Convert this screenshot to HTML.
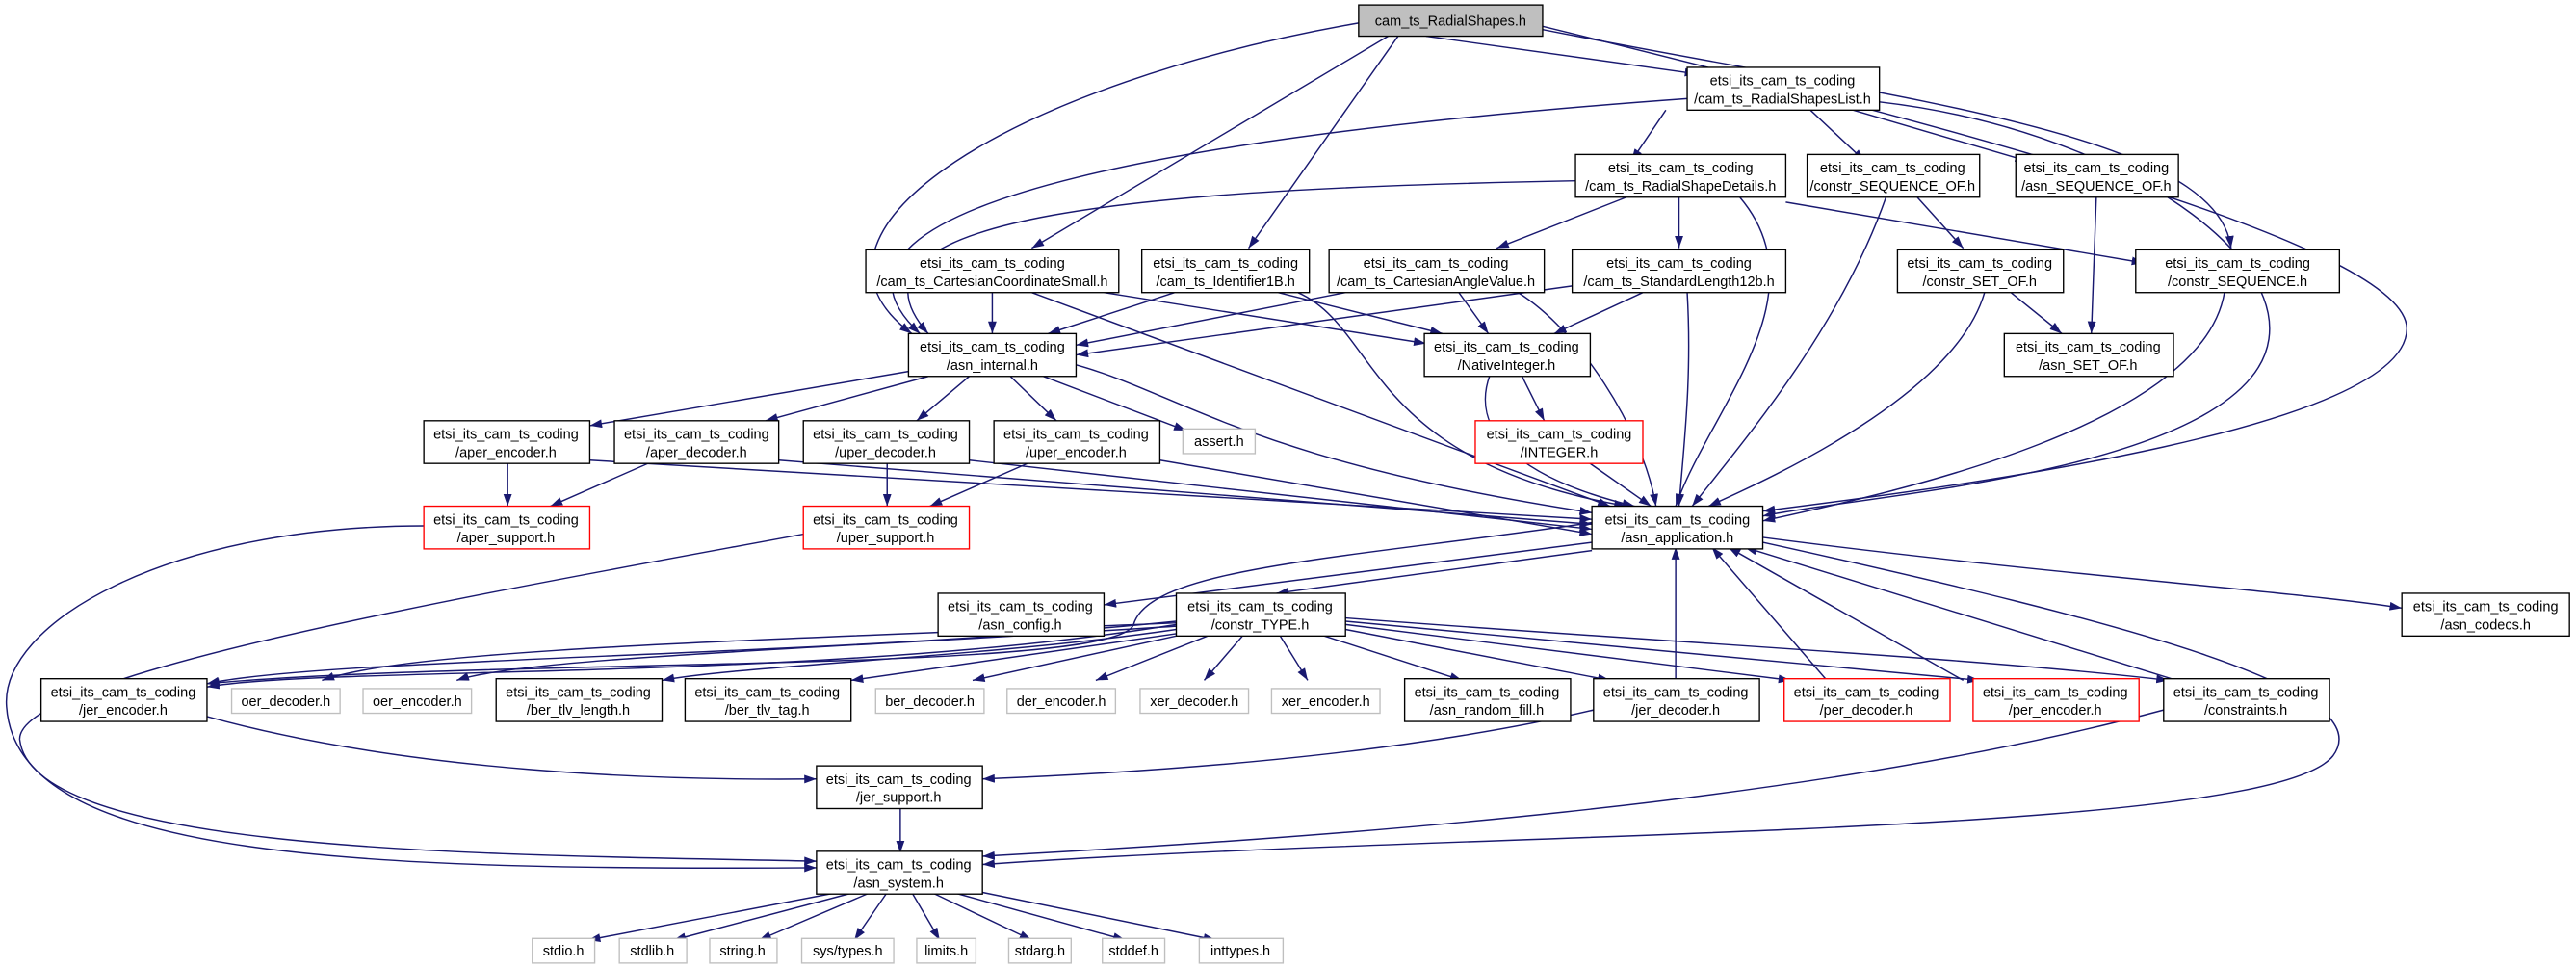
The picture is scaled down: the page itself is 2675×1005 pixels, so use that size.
<!DOCTYPE html>
<html><head><meta charset="utf-8"><style>
html,body{margin:0;padding:0;background:#fff;}
svg{display:block;}
text{font-family:"Liberation Sans",sans-serif;font-size:8.5px;fill:#000;text-anchor:middle;}
.e{fill:none;stroke:#191970;stroke-width:0.85;}
</style></head><body>
<svg width="2675" height="1005" viewBox="0 0 1568 589" preserveAspectRatio="none" xmlns="http://www.w3.org/2000/svg">
<defs><marker id="a" viewBox="0 0 10 7" markerWidth="7.5" markerHeight="5.2" refX="10" refY="3.5" orient="auto" markerUnits="userSpaceOnUse"><path d="M0,0 L10,3.5 L0,7 z" fill="#191970"/></marker></defs>
<g class="e" marker-end="url(#a)">
<path d="M868,22 L1033,45"/>
<path d="M827,14 C620,50 470,140 555,203"/>
<path d="M1027,60 C750,80 470,120 560,203"/>
<path d="M959,110 C700,115 500,130 565,203"/>
<path d="M845,22 L628,151"/>
<path d="M851,22 L760,151"/>
<path d="M939,18 C1150,60 1350,80 1358,151"/>
<path d="M939,16 C1200,80 1465,150 1465,200 C1465,260 1200,295 1073,311"/>
<path d="M1014,67 L993,98"/>
<path d="M1102,67 L1135,98"/>
<path d="M1128,67 L1234,98"/>
<path d="M1144,62 C1300,80 1420,170 1370,230 C1320,290 1130,302 1073,314"/>
<path d="M990,120 L911,151"/>
<path d="M1022,120 L1022,151"/>
<path d="M1087,123 L1305,160"/>
<path d="M1059,120 C1110,180 1040,250 1020,308"/>
<path d="M1167,120 L1195,151"/>
<path d="M1148,120 C1120,200 1060,270 1030,308"/>
<path d="M1276,120 L1273,203"/>
<path d="M1224,178 L1255,203"/>
<path d="M1208,178 C1190,240 1080,290 1040,308"/>
<path d="M1354,178 C1340,260 1150,300 1073,317"/>
<path d="M604,178 L604,203"/>
<path d="M672,178 L868,209"/>
<path d="M628,178 L980,308"/>
<path d="M715,178 L638,203"/>
<path d="M778,178 L878,203"/>
<path d="M790,178 C840,200 830,280 990,308"/>
<path d="M819,178 L655,210"/>
<path d="M888,178 L906,203"/>
<path d="M924,178 C960,200 1000,260 1008,308"/>
<path d="M957,174 L655,216"/>
<path d="M1000,178 L946,203"/>
<path d="M1027,178 C1030,230 1025,270 1022,308"/>
<path d="M926,228 L940,256"/>
<path d="M907,228 C895,260 920,290 995,308"/>
<path d="M965,280 L1005,308"/>
<path d="M553,226 L359,259"/>
<path d="M565,229 L466,256"/>
<path d="M590,229 L558,256"/>
<path d="M615,229 L643,256"/>
<path d="M635,229 L722,262"/>
<path d="M655,222 C720,240 760,280 969,312"/>
<path d="M359,280 L969,316"/>
<path d="M474,280 L969,319"/>
<path d="M590,280 L969,322"/>
<path d="M706,280 L969,325"/>
<path d="M309,280 L309,308"/>
<path d="M399,280 L335,308"/>
<path d="M540,280 L540,308"/>
<path d="M630,280 L566,308"/>
<path d="M258,320 C100,320 0,380 4,430 C10,520 200,530 497,528"/>
<path d="M489,325 C300,360 10,410 12,450 C20,520 300,520 497,524"/>
<path d="M969,330 L672,368"/>
<path d="M969,335 L777,361"/>
<path d="M1073,327 C1250,350 1400,360 1462,370"/>
<path d="M1073,330 C1300,380 1450,420 1420,460 C1380,510 900,505 598,526"/>
<path d="M969,318 C820,340 700,345 690,380 C680,410 300,400 126,416"/>
<path d="M716,378 C500,400 200,400 126,416"/>
<path d="M716,380 C500,415 200,405 126,418"/>
<path d="M716,379 C450,390 250,395 196,414"/>
<path d="M716,381 C500,395 320,400 278,414"/>
<path d="M716,383 C600,400 450,405 403,414"/>
<path d="M720,385 L518,414"/>
<path d="M725,385 L592,414"/>
<path d="M740,385 L667,414"/>
<path d="M758,385 L733,414"/>
<path d="M778,385 L796,414"/>
<path d="M800,385 L890,414"/>
<path d="M819,383 L980,414"/>
<path d="M819,380 L1090,414"/>
<path d="M819,378 L1205,414"/>
<path d="M819,376 C1000,390 1200,400 1320,414"/>
<path d="M1020,414 L1020,333"/>
<path d="M1112,414 L1042,333"/>
<path d="M1195,414 L1052,333"/>
<path d="M1325,414 L1062,333"/>
<path d="M970,432 C850,460 700,470 598,474"/>
<path d="M1317,432 C1100,490 800,510 598,521"/>
<path d="M126,436 C250,470 400,475 497,474"/>
<path d="M548,491 L548,519"/>
<path d="M510,543 L358,572"/>
<path d="M520,543 L410,572"/>
<path d="M530,543 L462,572"/>
<path d="M540,543 L520,572"/>
<path d="M555,543 L572,572"/>
<path d="M567,543 L628,572"/>
<path d="M580,543 L685,572"/>
<path d="M598,543 L740,572"/>
</g>
<g fill="#fff" stroke="#000" stroke-width="0.8">
<rect x="827" y="3" width="112" height="19" fill="#bfbfbf"/>
<rect x="1027" y="41" width="117" height="26"/>
<rect x="959" y="94" width="128" height="26"/>
<rect x="1100" y="94" width="105" height="26"/>
<rect x="1227" y="94" width="99" height="26"/>
<rect x="527" y="152" width="154" height="26"/>
<rect x="695" y="152" width="102" height="26"/>
<rect x="809" y="152" width="131" height="26"/>
<rect x="957" y="152" width="130" height="26"/>
<rect x="1155" y="152" width="101" height="26"/>
<rect x="1300" y="152" width="124" height="26"/>
<rect x="553" y="203" width="102" height="26"/>
<rect x="867" y="203" width="101" height="26"/>
<rect x="1220" y="203" width="103" height="26"/>
<rect x="258" y="256" width="101" height="26"/>
<rect x="374" y="256" width="100" height="26"/>
<rect x="489" y="256" width="101" height="26"/>
<rect x="605" y="256" width="101" height="26"/>
<rect x="720" y="261" width="44" height="15" stroke="#bfbfbf"/>
<rect x="898" y="256" width="102" height="26" stroke="#ff0000"/>
<rect x="258" y="308" width="101" height="26" stroke="#ff0000"/>
<rect x="489" y="308" width="101" height="26" stroke="#ff0000"/>
<rect x="969" y="308" width="104" height="26"/>
<rect x="571" y="361" width="101" height="26"/>
<rect x="716" y="361" width="103" height="26"/>
<rect x="1462" y="361" width="102" height="26"/>
<rect x="25" y="413" width="101" height="26"/>
<rect x="141" y="419" width="66" height="15" stroke="#bfbfbf"/>
<rect x="221" y="419" width="66" height="15" stroke="#bfbfbf"/>
<rect x="302" y="413" width="101" height="26"/>
<rect x="417" y="413" width="101" height="26"/>
<rect x="533" y="419" width="66" height="15" stroke="#bfbfbf"/>
<rect x="613" y="419" width="66" height="15" stroke="#bfbfbf"/>
<rect x="694" y="419" width="66" height="15" stroke="#bfbfbf"/>
<rect x="774" y="419" width="66" height="15" stroke="#bfbfbf"/>
<rect x="855" y="413" width="101" height="26"/>
<rect x="970" y="413" width="101" height="26"/>
<rect x="1086" y="413" width="101" height="26" stroke="#ff0000"/>
<rect x="1201" y="413" width="101" height="26" stroke="#ff0000"/>
<rect x="1317" y="413" width="101" height="26"/>
<rect x="497" y="466" width="101" height="26"/>
<rect x="497" y="518" width="101" height="26"/>
<rect x="324" y="571" width="38" height="15" stroke="#bfbfbf"/>
<rect x="377" y="571" width="41" height="15" stroke="#bfbfbf"/>
<rect x="432" y="571" width="41" height="15" stroke="#bfbfbf"/>
<rect x="488" y="571" width="56" height="15" stroke="#bfbfbf"/>
<rect x="558" y="571" width="36" height="15" stroke="#bfbfbf"/>
<rect x="614" y="571" width="38" height="15" stroke="#bfbfbf"/>
<rect x="671" y="571" width="38" height="15" stroke="#bfbfbf"/>
<rect x="730" y="571" width="51" height="15" stroke="#bfbfbf"/>
</g>
<g>
<text x="883" y="15.5">cam_ts_RadialShapes.h</text>
<text x="1085" y="52">etsi_its_cam_ts_coding</text><text x="1085" y="63">/cam_ts_RadialShapesList.h</text>
<text x="1023" y="105">etsi_its_cam_ts_coding</text><text x="1023" y="116">/cam_ts_RadialShapeDetails.h</text>
<text x="1152" y="105">etsi_its_cam_ts_coding</text><text x="1152" y="116">/constr_SEQUENCE_OF.h</text>
<text x="1276" y="105">etsi_its_cam_ts_coding</text><text x="1276" y="116">/asn_SEQUENCE_OF.h</text>
<text x="604" y="163">etsi_its_cam_ts_coding</text><text x="604" y="174">/cam_ts_CartesianCoordinateSmall.h</text>
<text x="746" y="163">etsi_its_cam_ts_coding</text><text x="746" y="174">/cam_ts_Identifier1B.h</text>
<text x="874" y="163">etsi_its_cam_ts_coding</text><text x="874" y="174">/cam_ts_CartesianAngleValue.h</text>
<text x="1022" y="163">etsi_its_cam_ts_coding</text><text x="1022" y="174">/cam_ts_StandardLength12b.h</text>
<text x="1205" y="163">etsi_its_cam_ts_coding</text><text x="1205" y="174">/constr_SET_OF.h</text>
<text x="1362" y="163">etsi_its_cam_ts_coding</text><text x="1362" y="174">/constr_SEQUENCE.h</text>
<text x="604" y="214">etsi_its_cam_ts_coding</text><text x="604" y="225">/asn_internal.h</text>
<text x="917" y="214">etsi_its_cam_ts_coding</text><text x="917" y="225">/NativeInteger.h</text>
<text x="1271" y="214">etsi_its_cam_ts_coding</text><text x="1271" y="225">/asn_SET_OF.h</text>
<text x="308" y="267">etsi_its_cam_ts_coding</text><text x="308" y="278">/aper_encoder.h</text>
<text x="424" y="267">etsi_its_cam_ts_coding</text><text x="424" y="278">/aper_decoder.h</text>
<text x="539" y="267">etsi_its_cam_ts_coding</text><text x="539" y="278">/uper_decoder.h</text>
<text x="655" y="267">etsi_its_cam_ts_coding</text><text x="655" y="278">/uper_encoder.h</text>
<text x="742" y="271.5">assert.h</text>
<text x="949" y="267">etsi_its_cam_ts_coding</text><text x="949" y="278">/INTEGER.h</text>
<text x="308" y="319">etsi_its_cam_ts_coding</text><text x="308" y="330">/aper_support.h</text>
<text x="539" y="319">etsi_its_cam_ts_coding</text><text x="539" y="330">/uper_support.h</text>
<text x="1021" y="319">etsi_its_cam_ts_coding</text><text x="1021" y="330">/asn_application.h</text>
<text x="621" y="372">etsi_its_cam_ts_coding</text><text x="621" y="383">/asn_config.h</text>
<text x="767" y="372">etsi_its_cam_ts_coding</text><text x="767" y="383">/constr_TYPE.h</text>
<text x="1513" y="372">etsi_its_cam_ts_coding</text><text x="1513" y="383">/asn_codecs.h</text>
<text x="75" y="424">etsi_its_cam_ts_coding</text><text x="75" y="435">/jer_encoder.h</text>
<text x="174" y="429.5">oer_decoder.h</text>
<text x="254" y="429.5">oer_encoder.h</text>
<text x="352" y="424">etsi_its_cam_ts_coding</text><text x="352" y="435">/ber_tlv_length.h</text>
<text x="467" y="424">etsi_its_cam_ts_coding</text><text x="467" y="435">/ber_tlv_tag.h</text>
<text x="566" y="429.5">ber_decoder.h</text>
<text x="646" y="429.5">der_encoder.h</text>
<text x="727" y="429.5">xer_decoder.h</text>
<text x="807" y="429.5">xer_encoder.h</text>
<text x="905" y="424">etsi_its_cam_ts_coding</text><text x="905" y="435">/asn_random_fill.h</text>
<text x="1020" y="424">etsi_its_cam_ts_coding</text><text x="1020" y="435">/jer_decoder.h</text>
<text x="1136" y="424">etsi_its_cam_ts_coding</text><text x="1136" y="435">/per_decoder.h</text>
<text x="1251" y="424">etsi_its_cam_ts_coding</text><text x="1251" y="435">/per_encoder.h</text>
<text x="1367" y="424">etsi_its_cam_ts_coding</text><text x="1367" y="435">/constraints.h</text>
<text x="547" y="477">etsi_its_cam_ts_coding</text><text x="547" y="488">/jer_support.h</text>
<text x="547" y="529">etsi_its_cam_ts_coding</text><text x="547" y="540">/asn_system.h</text>
<text x="343" y="581.5">stdio.h</text>
<text x="397" y="581.5">stdlib.h</text>
<text x="452" y="581.5">string.h</text>
<text x="516" y="581.5">sys/types.h</text>
<text x="576" y="581.5">limits.h</text>
<text x="633" y="581.5">stdarg.h</text>
<text x="690" y="581.5">stddef.h</text>
<text x="755" y="581.5">inttypes.h</text>
</g>
</svg>
</body></html>
